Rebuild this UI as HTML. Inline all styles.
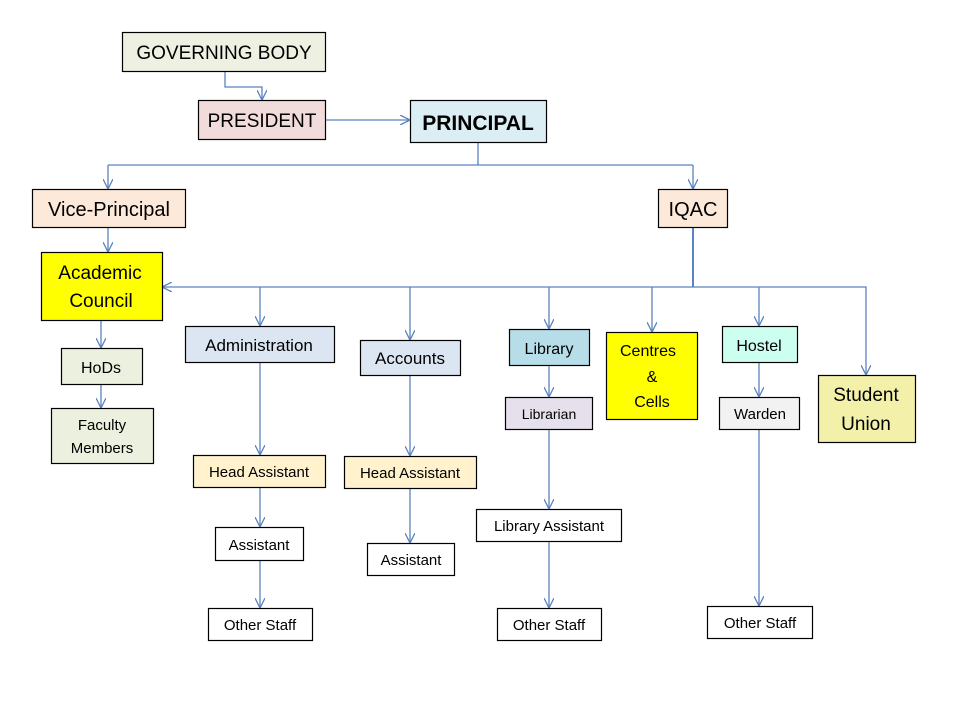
<!DOCTYPE html>
<html><head><meta charset="utf-8"><style>
html,body{margin:0;padding:0;background:#fff;}
svg{display:block;}
text{font-family:"Liberation Sans",sans-serif;fill:#000;text-anchor:middle;}
</style></head><body>
<svg width="960" height="720" viewBox="0 0 960 720" xmlns="http://www.w3.org/2000/svg">
<defs>
<marker id="a" viewBox="0 0 10 10" refX="10" refY="5" markerWidth="10" markerHeight="10" markerUnits="userSpaceOnUse" orient="auto">
<path d="M0,0 L10,5 L0,10" fill="none" stroke="#5b83bf" stroke-width="1.3"/>
</marker>
</defs>
<g fill="none" stroke="#5b83bf" stroke-width="1.3">
<path d="M225,71 V87 H262 V100" marker-end="url(#a)"/>
<path d="M325,120 H410" marker-end="url(#a)"/>
<path d="M478,142 V165"/>
<path d="M108,165 H693"/>
<path d="M108,165 V189" marker-end="url(#a)"/>
<path d="M693,165 V189" marker-end="url(#a)"/>
<path d="M108,227 V252" marker-end="url(#a)"/>
<path d="M693,227 V287" stroke-width="2"/>
<path d="M693,287 H162" marker-end="url(#a)"/>
<path d="M693,287 H866 V375" marker-end="url(#a)"/>
<path d="M260,287 V326" marker-end="url(#a)"/>
<path d="M410,287 V340" marker-end="url(#a)"/>
<path d="M549,287 V329" marker-end="url(#a)"/>
<path d="M652,287 V332" marker-end="url(#a)"/>
<path d="M759,287 V326" marker-end="url(#a)"/>
<path d="M101,320 V348" marker-end="url(#a)"/>
<path d="M101,384 V408" marker-end="url(#a)"/>
<path d="M260,362 V455" marker-end="url(#a)"/>
<path d="M260,487 V527" marker-end="url(#a)"/>
<path d="M260,560 V608" marker-end="url(#a)"/>
<path d="M410,375 V456" marker-end="url(#a)"/>
<path d="M410,488 V543" marker-end="url(#a)"/>
<path d="M549,365 V397" marker-end="url(#a)"/>
<path d="M549,429 V509" marker-end="url(#a)"/>
<path d="M549,541 V608" marker-end="url(#a)"/>
<path d="M759,362 V397" marker-end="url(#a)"/>
<path d="M759,429 V606" marker-end="url(#a)"/>
</g>
<g stroke="#000" stroke-width="1.2">
<rect x="122.5" y="32.5" width="203" height="39" fill="#eef0e2"/>
<rect x="198.5" y="100.5" width="127" height="39" fill="#f2dcdb"/>
<rect x="410.5" y="100.5" width="136" height="42" fill="#dbeef4"/>
<rect x="32.5" y="189.5" width="153" height="38" fill="#fde9d9"/>
<rect x="658.5" y="189.5" width="69" height="38" fill="#fde9d9"/>
<rect x="41.5" y="252.5" width="121" height="68" fill="#ffff00"/>
<rect x="61.5" y="348.5" width="81" height="36" fill="#ebf1de"/>
<rect x="51.5" y="408.5" width="102" height="55" fill="#ebf1de"/>
<rect x="185.5" y="326.5" width="149" height="36" fill="#dce6f2"/>
<rect x="360.5" y="340.5" width="100" height="35" fill="#dce6f2"/>
<rect x="509.5" y="329.5" width="80" height="36" fill="#b7dee8"/>
<rect x="606.5" y="332.5" width="91" height="87" fill="#ffff00"/>
<rect x="722.5" y="326.5" width="75" height="36" fill="#ccfff0"/>
<rect x="818.5" y="375.5" width="97" height="67" fill="#f3f0aa"/>
<rect x="505.5" y="397.5" width="87" height="32" fill="#e5e0ec"/>
<rect x="719.5" y="397.5" width="80" height="32" fill="#f2f2f2"/>
<rect x="193.5" y="455.5" width="132" height="32" fill="#fff2cc"/>
<rect x="344.5" y="456.5" width="132" height="32" fill="#fff2cc"/>
<rect x="215.5" y="527.5" width="88" height="33" fill="#fff"/>
<rect x="367.5" y="543.5" width="87" height="32" fill="#fff"/>
<rect x="476.5" y="509.5" width="145" height="32" fill="#fff"/>
<rect x="208.5" y="608.5" width="104" height="32" fill="#fff"/>
<rect x="497.5" y="608.5" width="104" height="32" fill="#fff"/>
<rect x="707.5" y="606.5" width="105" height="32" fill="#fff"/>
</g>
<text x="224" y="59" font-size="19">GOVERNING BODY</text>
<text x="262" y="127" font-size="19">PRESIDENT</text>
<text x="478" y="130" font-size="21" font-weight="bold">PRINCIPAL</text>
<text x="109" y="216" font-size="20">Vice-Principal</text>
<text x="693" y="216" font-size="20">IQAC</text>
<text x="100" y="279" font-size="19">Academic</text>
<text x="101" y="307" font-size="19">Council</text>
<text x="101" y="373" font-size="16">HoDs</text>
<text x="102" y="430" font-size="15">Faculty</text>
<text x="102" y="453" font-size="15">Members</text>
<text x="259" y="351" font-size="17">Administration</text>
<text x="410" y="364" font-size="17">Accounts</text>
<text x="549" y="354" font-size="16">Library</text>
<text x="648" y="356" font-size="16">Centres</text>
<text x="652" y="382" font-size="16">&amp;</text>
<text x="652" y="407" font-size="16">Cells</text>
<text x="759" y="351" font-size="16">Hostel</text>
<text x="866" y="401" font-size="19">Student</text>
<text x="866" y="430" font-size="19">Union</text>
<text x="549" y="419" font-size="14">Librarian</text>
<text x="760" y="419" font-size="15">Warden</text>
<text x="259" y="477" font-size="15">Head Assistant</text>
<text x="410" y="478" font-size="15">Head Assistant</text>
<text x="259" y="550" font-size="15">Assistant</text>
<text x="411" y="565" font-size="15">Assistant</text>
<text x="549" y="531" font-size="15">Library Assistant</text>
<text x="260" y="630" font-size="15">Other Staff</text>
<text x="549" y="630" font-size="15">Other Staff</text>
<text x="760" y="628" font-size="15">Other Staff</text>
</svg>
</body></html>
